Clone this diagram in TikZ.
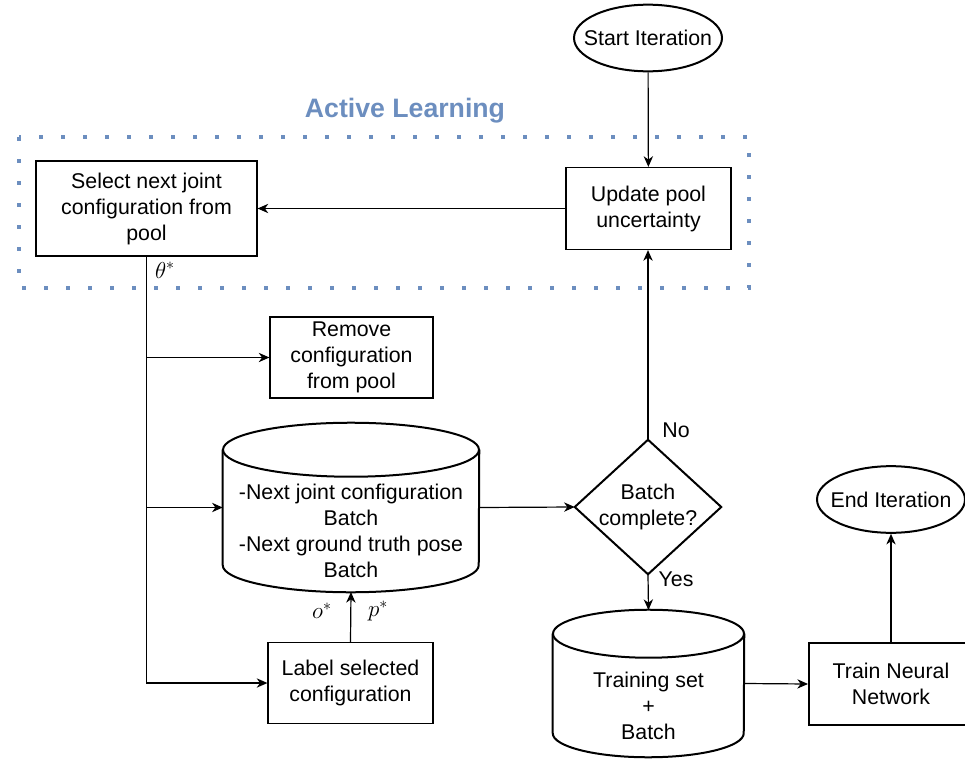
\documentclass[tikz,border=0pt]{standalone}
\usepackage{fontspec}
\setmainfont{Liberation Sans}
\usetikzlibrary{arrows.meta,shapes.geometric}
\definecolor{alblue}{HTML}{6C8EBF}

\begin{document}
\begin{tikzpicture}[x=0.75pt,y=-0.75pt,
  font=\fontsize{16}{19.5}\selectfont,
  box/.style={draw, line width=0.9pt, align=center, inner sep=0pt},
  heavybox/.style={draw, line width=1.5pt, align=center, inner sep=0pt},
  body/.style={inner sep=0pt},
  term/.style={draw, ellipse, line width=1.5pt, inner xsep=-25pt, inner ysep=-5pt,
               minimum width=111pt, minimum height=50pt},
  outline/.style={line width=1.5pt},
  link/.style={line width=0.9pt, -{Stealth[length=8pt,width=7pt,inset=2.5pt]}},
  tag/.style={inner sep=1pt, font=\fontsize{18}{20}\selectfont}]

\clip (0,0) rectangle (965,760);

% active learning frame
\draw[alblue, line width=3pt, dash pattern=on 3pt off 13.5pt]
  (19,137) rectangle (749,288);
\node[alblue, font=\bfseries\fontsize{20}{24}\selectfont] (altitle) at (405,111) {Active Learning};

% terminals
\node[term] (start) at (648,38) {Start Iteration};
\node[term] (finish) at (891,499.5) {End Iteration};

% process boxes
\node[box, minimum width=123.75pt, minimum height=61.5pt] (update) at (648.5,208.5) {Update pool\\uncertainty};
\node[box, minimum width=165.75pt, minimum height=71.25pt] (select) at (146.5,208.5) {Select next joint\\configuration from\\pool};
\node[box, minimum width=122.25pt, minimum height=60.75pt] (remove) at (351.5,357.5) {Remove\\configuration\\from pool};
\node[box, minimum width=123.75pt, minimum height=60.75pt] (label) at (350.5,683) {Label selected\\configuration};
\node[heavybox, minimum width=123pt, minimum height=61.5pt] (train) at (891,684) {Train Neural\\Network};

% batch store (cylinder)
\node[body, minimum width=192pt, minimum height=86.25pt] (cyl1) at (351,507.5) {};
\draw[outline] (cyl1.north west) -- (cyl1.south west)
  arc[start angle=180, end angle=0, x radius=128, y radius=27] -- (cyl1.north east);
\draw[outline] (cyl1.north) ellipse[x radius=128, y radius=27];
\node[align=center] (cyl1text) at (351,531) {-Next joint configuration\\Batch\\-Next ground truth pose\\Batch};
\coordinate (cyl1bot) at (351,592);

% training store (cylinder)
\node[body, minimum width=143.25pt, minimum height=74.25pt] (cyl2) at (648.5,683.5) {};
\draw[outline] (cyl2.north west) -- (cyl2.south west)
  arc[start angle=180, end angle=0, x radius=95.5, y radius=24] -- (cyl2.north east);
\draw[outline] (cyl2.north) ellipse[x radius=95.5, y radius=24];
\node[align=center] (cyl2text) at (648.5,706) {Training set\\+\\Batch};
\coordinate (cyl2top) at (648.5,610);

% decision
\node[body, align=center, minimum width=109.5pt, minimum height=100.5pt] (dia) at (648,507) {Batch\\complete?};
\draw[outline] (dia.north) -- (dia.east) -- (dia.south) -- (dia.west) -- cycle;

% connectors
\draw[link] (start) -- (update);
\draw[link] (update) -- (select);
\draw[link] (select.south) |- (label.west);
\draw[link] (select.south |- remove.west) -- (remove.west);
\draw[link] (select.south |- cyl1.west) -- (cyl1.west);
\draw[link] (label.north) -- (cyl1bot);
\draw[link] (cyl1.east) -- (dia.west);
\draw[link] (dia.north) -- (dia.north |- update.south);
\draw[link] (dia.south) -- (cyl2top);
\draw[link] (cyl2.east) -- (train.west);
\draw[link] (train.north) -- (finish.south);

% labels
\node[tag] (theta) at (165,270) {$\theta^*$};
\node[tag] (olab) at (322,611) {$o^*$};
\node[tag] (plab) at (378,611) {$p^*$};
\node[inner sep=1pt] (nolab) at (676,430) {No};
\node[inner sep=1pt] (yeslab) at (676,579) {Yes};
\end{tikzpicture}
\end{document}
